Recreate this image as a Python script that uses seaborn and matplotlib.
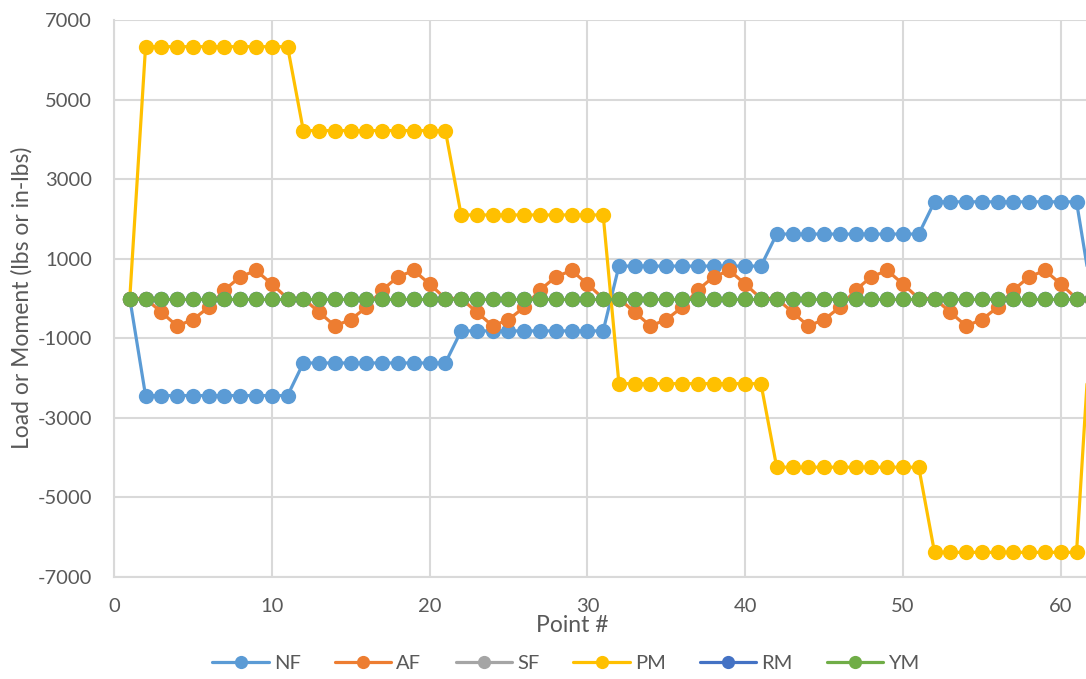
import numpy as np
import pandas as pd
import matplotlib
matplotlib.use("Agg")
import matplotlib.pyplot as plt
import seaborn as sns
from matplotlib.lines import Line2D

# ---- data ----
points = list(range(1, 63))
nf_levels = [-2440, -1620, -815, 815, 1620, 2430]
pm_levels = [6330, 4220, 2100, -2140, -4240, -6380]
af_cycle = [0, -345, -690, -530, -220, 215, 545, 705, 365, 0]

NF = [0] + [v for lvl in nf_levels for v in [lvl] * 10] + [0]
PM = [0] + [v for lvl in pm_levels for v in [lvl] * 10] + [0]
AF = [0] + af_cycle * 6 + [0]
SF = [0] * 62
RM = [0] * 62
YM = [0] * 62

series_names = ["NF", "AF", "SF", "PM", "RM", "YM"]
series_values = [NF, AF, SF, PM, RM, YM]
colors = ["#5B9BD5", "#ED7D31", "#A5A5A5", "#FFC000", "#4472C4", "#70AD47"]

yticks = [-7000, -5000, -3000, -1000, 1000, 3000, 5000, 7000]
xticks = [0, 10, 20, 30, 40, 50, 60]

# ---- plot ----
sns.set_theme(style="whitegrid")
plt.rcParams["font.family"] = ["Lato", "DejaVu Sans"]
plt.rcParams["axes.unicode_minus"] = False
text_color = "#595959"
grid_color = "#D9D9D9"

fig = plt.figure(figsize=(10.86, 6.79), dpi=100)
ax = fig.add_axes([114 / 1086, (679 - 577) / 679, (1086 - 114) / 1086, (577 - 20) / 679])

for i, (name, vals, col) in enumerate(zip(series_names, series_values, colors)):
    df = pd.DataFrame({"Point": points, "Value": vals})
    sns.lineplot(data=df, x="Point", y="Value", ax=ax, color=col, linewidth=2.3,
                 marker="o", markersize=11, markeredgewidth=0, zorder=3 + i,
                 label=name, legend=False)

ax.set_xlim(0, 61.6)
ax.set_ylim(-7000, 7000)
ax.set_xticks(xticks)
ax.set_yticks(yticks)
ax.grid(True, color=grid_color, linewidth=1.5)
ax.set_axisbelow(True)
for s in ["top", "right"]:
    ax.spines[s].set_visible(False)
for s in ["left", "bottom"]:
    ax.spines[s].set_color(grid_color)
    ax.spines[s].set_linewidth(1.5)

ax.tick_params(axis="both", colors=text_color, labelsize=14.5, length=0)
ax.tick_params(axis="x", pad=15)
ax.tick_params(axis="y", pad=16)
ax.set_xlabel("")
ax.set_ylabel("")

fig.text(22 / 1086, 1 - 298 / 679, "Load or Moment (lbs or in-lbs)", rotation=90,
         ha="center", va="center", color=text_color, fontsize=16.5)
fig.text(572 / 1086, 1 - 626 / 679, "Point #", ha="center", va="center",
         color=text_color, fontsize=16.5)

handles = [Line2D([0], [0], color=c, linewidth=2.3, marker="o", markersize=9.5,
                  markeredgewidth=0) for c in colors]
fig.legend(handles, series_names, loc="center", bbox_to_anchor=(566 / 1086, 1 - 663 / 679),
           ncol=6, frameon=False, fontsize=14.5, labelcolor=text_color,
           handlelength=2.8, handletextpad=0.25, columnspacing=1.7)

fig.savefig("out.png", dpi=100)
